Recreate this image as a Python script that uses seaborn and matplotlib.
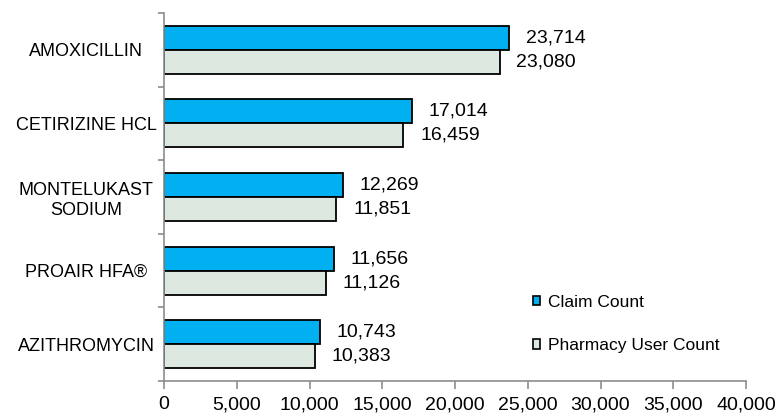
import matplotlib
matplotlib.use("Agg")
import matplotlib.pyplot as plt
import matplotlib.patches as mpatches
from matplotlib.ticker import FuncFormatter
import seaborn as sns
import pandas as pd

drugs = ["AMOXICILLIN", "CETIRIZINE HCL", "MONTELUKAST\nSODIUM", "PROAIR HFA®", "AZITHROMYCIN"]
claim_count = [23714, 17014, 12269, 11656, 10743]
user_count = [23080, 16459, 11851, 11126, 10383]
series_names = ["Claim Count", "Pharmacy User Count"]
x_ticks = [0, 5000, 10000, 15000, 20000, 25000, 30000, 35000, 40000]

colors = ["#00B0F0", "#DDE8E0"]

df = pd.DataFrame({
    "drug": drugs * 2,
    "value": claim_count + user_count,
    "series": [series_names[0]] * len(drugs) + [series_names[1]] * len(drugs),
})

sns.set_theme(style="white")
plt.rcParams["font.family"] = ["Liberation Sans", "DejaVu Sans"]
plt.rcParams["text.color"] = "black"
plt.rcParams["xtick.color"] = "black"
plt.rcParams["ytick.color"] = "black"

fig = plt.figure(figsize=(7.81, 4.17), dpi=100)
ax = fig.add_axes([164 / 781, 1 - 381 / 417, (746 - 164) / 781, (381 - 13) / 417])

sns.barplot(data=df, y="drug", x="value", hue="series", orient="h",
            palette=colors, width=0.65, edgecolor="black", linewidth=1.3,
            saturation=1, legend=False, ax=ax)

for cont in ax.containers:
    ax.bar_label(cont, labels=[f"{v:,.0f}" for v in cont.datavalues],
                 padding=12, fontsize=14, color="black")

ax.set_xlim(0, 40000)
ax.set_xticks(x_ticks)
ax.xaxis.set_major_formatter(FuncFormatter(lambda v, p: f"{v:,.0f}"))
ax.set_xlabel("")
ax.set_ylabel("")

for s in ["top", "right"]:
    ax.spines[s].set_visible(False)
for s in ["left", "bottom"]:
    ax.spines[s].set_color("#8c8c8c")
    ax.spines[s].set_linewidth(1.2)

# category ticks at boundaries
ax.set_yticks(range(len(drugs)))
ax.set_yticklabels(drugs, fontsize=13, multialignment="center", color="black")
ax.tick_params(axis="y", which="major", left=True, length=0, pad=12)
ax.set_yticks([i - 0.5 for i in range(len(drugs) + 1)], minor=True)
ax.tick_params(axis="y", which="minor", left=True, length=4, width=1.2,
               color="#8c8c8c", direction="out")
ax.tick_params(axis="x", bottom=True, length=6, width=1.2, color="#8c8c8c",
               direction="out", labelsize=14, labelcolor="black", pad=5)
for lbl in ax.get_yticklabels():
    lbl.set_horizontalalignment("center")
    lbl.set_x(-0.105)

handles = [mpatches.Patch(facecolor=c, edgecolor="black", linewidth=1.2, label=n)
           for c, n in zip(colors, series_names)]
fig.legend(handles=handles, loc="center left", bbox_to_anchor=(0.682, 0.223),
           frameon=False, fontsize=12.5, handlelength=0.45, handleheight=0.45,
           handletextpad=0.45, labelspacing=1.65, borderpad=0, borderaxespad=0,
           labelcolor="black")

fig.savefig("out.png", dpi=100)
